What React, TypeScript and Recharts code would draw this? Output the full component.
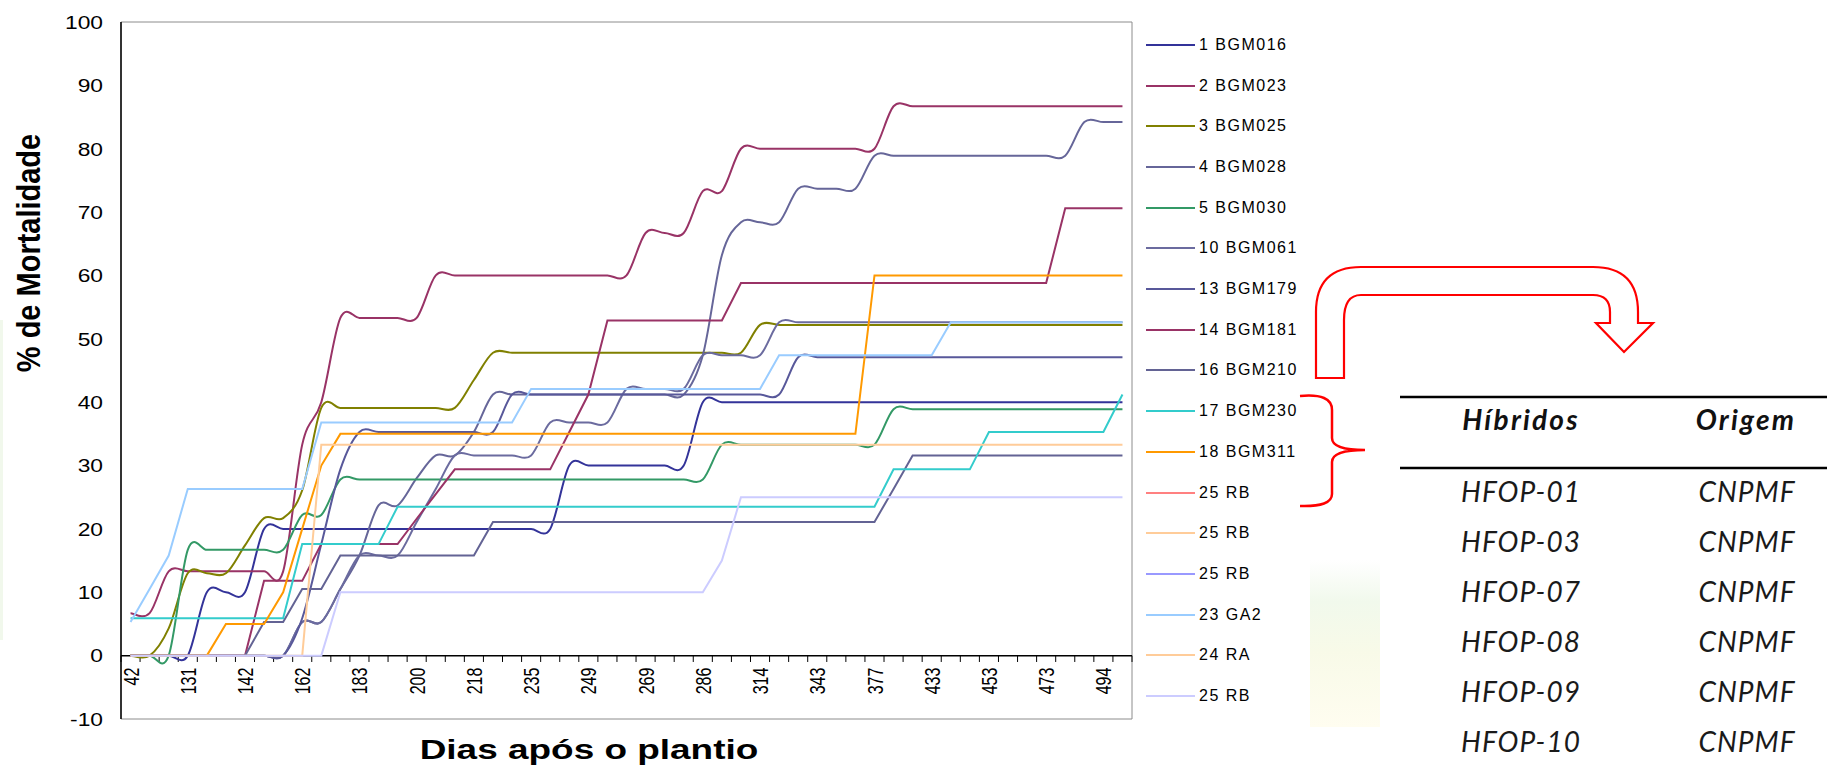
import React from "react";
import {
  Legend,
  Line,
  LineChart,
  ReferenceArea,
  ReferenceDot,
  ReferenceLine,
  XAxis,
  YAxis,
} from "recharts";

// Dias após o plantio: rótulo a cada três avaliações
const rotulosDias = [42, 131, 142, 162, 183, 200, 218, 235, 249, 269, 286, 314, 343, 377, 433, 453, 473, 494];
const nAvaliacoes = 53;

// % de mortalidade acumulada por acesso, uma posição por avaliação
const bgm016 = [
  0, 0, 0, 0, 10, 10, 10, 20, 20, 20,
  20, 20, 20, 20, 20, 20, 20, 20, 20, 20,
  20, 20, 20, 30, 30, 30, 30, 30, 30, 30,
  40, 40, 40, 40, 40, 40, 40, 40, 40, 40,
  40, 40, 40, 40, 40, 40, 40, 40, 40, 40,
  40, 40, 40,
];
const bgm023 = [
  6.7, 6.7, 13.3, 13.3, 13.3, 13.3, 13.3, 13.3, 13.3, 33.3,
  40, 53.3, 53.3, 53.3, 53.3, 53.3, 60, 60, 60, 60,
  60, 60, 60, 60, 60, 60, 60, 66.7, 66.7, 66.7,
  73.3, 73.3, 80, 80, 80, 80, 80, 80, 80, 80,
  86.7, 86.7, 86.7, 86.7, 86.7, 86.7, 86.7, 86.7, 86.7, 86.7,
  86.7, 86.7, 86.7,
];
const bgm025 = [
  0, 0, 4.3, 13, 13, 13, 17.4, 21.7, 21.7, 26.1,
  39.1, 39.1, 39.1, 39.1, 39.1, 39.1, 39.1, 39.1, 43.5, 47.8,
  47.8, 47.8, 47.8, 47.8, 47.8, 47.8, 47.8, 47.8, 47.8, 47.8,
  47.8, 47.8, 47.8, 52.2, 52.2, 52.2, 52.2, 52.2, 52.2, 52.2,
  52.2, 52.2, 52.2, 52.2, 52.2, 52.2, 52.2, 52.2, 52.2, 52.2,
  52.2, 52.2, 52.2,
];
const bgm028 = [
  0, 0, 0, 0, 0, 0, 0, 0, 0, 5.3,
  5.3, 10.5, 15.8, 23.7, 23.7, 28, 31.6, 31.6, 35.3, 41.2,
  41.2, 41.2, 41.2, 41.2, 41.2, 41.2, 41.2, 41.2, 41.2, 41.2,
  47.4, 63.2, 68.4, 68.4, 68.4, 73.7, 73.7, 73.7, 73.7, 78.9,
  78.9, 78.9, 78.9, 78.9, 78.9, 78.9, 78.9, 78.9, 78.9, 78.9,
  84.2, 84.2, 84.2,
];
const bgm030 = [
  0, 0, 0, 16.7, 16.7, 16.7, 16.7, 16.7, 16.7, 22.2,
  22.2, 27.8, 27.8, 27.8, 27.8, 27.8, 27.8, 27.8, 27.8, 27.8,
  27.8, 27.8, 27.8, 27.8, 27.8, 27.8, 27.8, 27.8, 27.8, 27.8,
  27.8, 33.3, 33.3, 33.3, 33.3, 33.3, 33.3, 33.3, 33.3, 33.3,
  38.9, 38.9, 38.9, 38.9, 38.9, 38.9, 38.9, 38.9, 38.9, 38.9,
  38.9, 38.9, 38.9,
];
const bgm061 = [
  0, 0, 0, 0, 0, 0, 0, 0, 0, 5.3,
  5.3, 10.5, 15.8, 15.8, 15.8, 21.1, 26.3, 31.6, 31.6, 31.6,
  31.6, 31.6, 36.8, 36.8, 36.8, 36.8, 42.1, 42.1, 42.1, 42.1,
  47.4, 47.4, 47.4, 47.4, 52.6, 52.6, 52.6, 52.6, 52.6, 52.6,
  52.6, 52.6, 52.6, 52.6, 52.6, 52.6, 52.6, 52.6, 52.6, 52.6,
  52.6, 52.6, 52.6,
];
const bgm179 = [
  0, 0, 0, 0, 0, 0, 0, 0, 0, 5.9,
  17.6, 29.4, 35.3, 35.3, 35.3, 35.3, 35.3, 35.3, 35.3, 35.3,
  41.2, 41.2, 41.2, 41.2, 41.2, 41.2, 41.2, 41.2, 41.2, 41.2,
  41.2, 41.2, 41.2, 41.2, 41.2, 47.1, 47.1, 47.1, 47.1, 47.1,
  47.1, 47.1, 47.1, 47.1, 47.1, 47.1, 47.1, 47.1, 47.1, 47.1,
  47.1, 47.1, 47.1,
];
const bgm181 = [
  0, 0, 0, 0, 0, 0, 0, 11.8, 11.8, 11.8,
  17.6, 17.6, 17.6, 17.6, 17.6, 21.6, 25.5, 29.4, 29.4, 29.4,
  29.4, 29.4, 29.4, 35.3, 41.2, 52.9, 52.9, 52.9, 52.9, 52.9,
  52.9, 52.9, 58.8, 58.8, 58.8, 58.8, 58.8, 58.8, 58.8, 58.8,
  58.8, 58.8, 58.8, 58.8, 58.8, 58.8, 58.8, 58.8, 58.8, 70.6,
  70.6, 70.6, 70.6,
];
const bgm210 = [
  0, 0, 0, 0, 0, 0, 0, 5.3, 5.3, 10.5,
  10.5, 15.8, 15.8, 15.8, 15.8, 15.8, 15.8, 15.8, 15.8, 21.1,
  21.1, 21.1, 21.1, 21.1, 21.1, 21.1, 21.1, 21.1, 21.1, 21.1,
  21.1, 21.1, 21.1, 21.1, 21.1, 21.1, 21.1, 21.1, 21.1, 21.1,
  26.3, 31.6, 31.6, 31.6, 31.6, 31.6, 31.6, 31.6, 31.6, 31.6,
  31.6, 31.6, 31.6,
];
const bgm230 = [
  5.9, 5.9, 5.9, 5.9, 5.9, 5.9, 5.9, 5.9, 5.9, 17.6,
  17.6, 17.6, 17.6, 17.6, 23.5, 23.5, 23.5, 23.5, 23.5, 23.5,
  23.5, 23.5, 23.5, 23.5, 23.5, 23.5, 23.5, 23.5, 23.5, 23.5,
  23.5, 23.5, 23.5, 23.5, 23.5, 23.5, 23.5, 23.5, 23.5, 23.5,
  29.4, 29.4, 29.4, 29.4, 29.4, 35.3, 35.3, 35.3, 35.3, 35.3,
  35.3, 35.3, 41.2,
];
const bgm311 = [
  0, 0, 0, 0, 0, 5, 5, 5, 10, 20,
  30, 35, 35, 35, 35, 35, 35, 35, 35, 35,
  35, 35, 35, 35, 35, 35, 35, 35, 35, 35,
  35, 35, 35, 35, 35, 35, 35, 35, 35, 60,
  60, 60, 60, 60, 60, 60, 60, 60, 60, 60,
  60, 60, 60,
];
const ga2 = [
  5.3, 10.5, 15.8, 26.3, 26.3, 26.3, 26.3, 26.3, 26.3, 26.3,
  36.8, 36.8, 36.8, 36.8, 36.8, 36.8, 36.8, 36.8, 36.8, 36.8,
  36.8, 42.1, 42.1, 42.1, 42.1, 42.1, 42.1, 42.1, 42.1, 42.1,
  42.1, 42.1, 42.1, 42.1, 47.4, 47.4, 47.4, 47.4, 47.4, 47.4,
  47.4, 47.4, 47.4, 52.6, 52.6, 52.6, 52.6, 52.6, 52.6, 52.6,
  52.6, 52.6, 52.6,
];
const ra = [
  0, 0, 0, 0, 0, 0, 0, 0, 0, 0,
  33.3, 33.3, 33.3, 33.3, 33.3, 33.3, 33.3, 33.3, 33.3, 33.3,
  33.3, 33.3, 33.3, 33.3, 33.3, 33.3, 33.3, 33.3, 33.3, 33.3,
  33.3, 33.3, 33.3, 33.3, 33.3, 33.3, 33.3, 33.3, 33.3, 33.3,
  33.3, 33.3, 33.3, 33.3, 33.3, 33.3, 33.3, 33.3, 33.3, 33.3,
  33.3, 33.3, 33.3,
];
const rb = [
  0, 0, 0, 0, 0, 0, 0, 0, 0, 0,
  0, 10, 10, 10, 10, 10, 10, 10, 10, 10,
  10, 10, 10, 10, 10, 10, 10, 10, 10, 10,
  10, 15, 25, 25, 25, 25, 25, 25, 25, 25,
  25, 25, 25, 25, 25, 25, 25, 25, 25, 25,
  25, 25, 25,
];
// séries sem leitura (aparecem só na legenda)
const semDados: number[] = [];

const series = [
  { key: "s1", nome: "1 BGM016", cor: "#333399", valores: bgm016, suave: true },
  { key: "s2", nome: "2 BGM023", cor: "#993366", valores: bgm023, suave: true },
  { key: "s3", nome: "3 BGM025", cor: "#808000", valores: bgm025, suave: true },
  { key: "s4", nome: "4 BGM028", cor: "#666699", valores: bgm028, suave: true },
  { key: "s5", nome: "5 BGM030", cor: "#339966", valores: bgm030, suave: true },
  { key: "s10", nome: "10 BGM061", cor: "#6B6B9F", valores: bgm061, suave: true },
  { key: "s13", nome: "13 BGM179", cor: "#58589A", valores: bgm179, suave: true },
  { key: "s14", nome: "14 BGM181", cor: "#993366", valores: bgm181, suave: false },
  { key: "s16", nome: "16 BGM210", cor: "#636394", valores: bgm210, suave: false },
  { key: "s17", nome: "17 BGM230", cor: "#33CCCC", valores: bgm230, suave: false },
  { key: "s18", nome: "18 BGM311", cor: "#FF9900", valores: bgm311, suave: false },
  { key: "s25a", nome: "25 RB", cor: "#FF8080", valores: semDados, suave: false },
  { key: "s25b", nome: "25 RB", cor: "#FFCC99", valores: semDados, suave: false },
  { key: "s25c", nome: "25 RB", cor: "#9999FF", valores: semDados, suave: false },
  { key: "s23", nome: "23 GA2", cor: "#99CCFF", valores: ga2, suave: false },
  { key: "s24", nome: "24 RA", cor: "#FFCC99", valores: ra, suave: false },
  { key: "s25", nome: "25 RB", cor: "#CCCCFF", valores: rb, suave: false },
];

const dados = Array.from({ length: nAvaliacoes }, (_, i) => {
  const row: Record<string, number> = { i };
  series.forEach((s) => {
    if (s.valores[i] !== undefined) row[s.key] = s.valores[i];
  });
  return row;
});

const limites = Array.from({ length: nAvaliacoes + 1 }, (_, k) => k - 0.5);
const ticksY = [-10, 0, 10, 20, 30, 40, 50, 60, 70, 80, 90, 100];

const hibridos = ["HFOP-01", "HFOP-03", "HFOP-07", "HFOP-08", "HFOP-09", "HFOP-10"];
const origens = ["CNPMF", "CNPMF", "CNPMF", "CNPMF", "CNPMF", "CNPMF"];

const FONTE = "'Liberation Sans', Arial, sans-serif";
const FONTE_TABELA = "Lato, 'Open Sans', sans-serif";

// suavização tipo Catmull-Rom (como a "linha suavizada" da planilha)
function curvaSuave(context: any) {
  let pts: number[][] = [];
  return {
    areaStart() {},
    areaEnd() {},
    lineStart() {
      pts = [];
    },
    point(x: number, y: number) {
      pts.push([+x, +y]);
    },
    lineEnd() {
      if (!pts.length) return;
      context.moveTo(pts[0][0], pts[0][1]);
      for (let k = 0; k < pts.length - 1; k++) {
        const p0 = pts[k - 1] ?? pts[k];
        const p1 = pts[k];
        const p2 = pts[k + 1];
        const p3 = pts[k + 2] ?? p2;
        context.bezierCurveTo(
          p1[0] + (p2[0] - p0[0]) / 6,
          p1[1] + (p2[1] - p0[1]) / 6,
          p2[0] - (p3[0] - p1[0]) / 6,
          p2[1] - (p3[1] - p1[1]) / 6,
          p2[0],
          p2[1]
        );
      }
    },
  };
}

const RotuloY = ({ x, y, payload }: any) => (
  <text
    transform={`translate(${x},${y}) scale(1.2,1)`}
    textAnchor="end"
    dominantBaseline="central"
    fontFamily={FONTE}
    fontSize={19}
    fill="#000"
  >
    {payload.value}
  </text>
);

const RotuloDia = (props: any) => {
  const { viewBox, texto } = props;
  if (!viewBox) return null;
  const x = viewBox.x + (viewBox.width || 0) / 2;
  const y = viewBox.y + (viewBox.height || 0) / 2;
  return (
    <text
      transform={`translate(${x},${y + 12}) scale(1.4,1) rotate(-90)`}
      textAnchor="end"
      dominantBaseline="central"
      fontFamily={FONTE}
      fontSize={16}
      fill="#000"
    >
      {texto}
    </text>
  );
};

const Legenda = (props: any) => {
  const payload = props.payload || [];
  const itens = series
    .map((s) => payload.find((p: any) => p.dataKey === s.key))
    .filter(Boolean);
  return (
    <div>
      {itens.map((p: any, k: number) => (
        <div key={k} style={{ height: 40.7, display: "flex", alignItems: "center" }}>
          <svg width={53} height={4} style={{ display: "block" }}>
            <line x1={0} y1={2} x2={49} y2={2} stroke={p.color} strokeWidth={2} />
          </svg>
          <span style={{ fontFamily: FONTE, fontSize: 16, letterSpacing: 1.5, color: "#000", lineHeight: "16px" }}>
            {p.value}
          </span>
        </div>
      ))}
    </div>
  );
};

export default function App() {
  return (
    <div
      style={{
        position: "absolute",
        left: 0,
        top: 0,
        width: 1827,
        height: 766,
        background: "#fff",
        fontFamily: FONTE,
        overflow: "hidden",
      }}
    >
      <LineChart
        width={1827}
        height={766}
        data={dados}
        margin={{ top: 22, right: 695, bottom: 47, left: 61 }}
      >
        <XAxis dataKey="i" type="number" domain={[-0.5, 52.5]} allowDataOverflow hide />
        <YAxis
          type="number"
          domain={[-10, 100]}
          ticks={ticksY}
          width={60}
          tickLine={false}
          tickSize={0}
          tickMargin={18}
          axisLine={{ stroke: "#000", strokeWidth: 1.5 }}
          tick={<RotuloY />}
          interval={0}
        />
        <ReferenceArea
          x1={-0.5}
          x2={52.5}
          y1={-10}
          y2={100}
          fill="none"
          fillOpacity={0}
          stroke="#8c8c8c"
          strokeWidth={1}
          ifOverflow="visible"
        />
        <ReferenceLine y={0} stroke="#000" strokeWidth={1.5} />
        {limites.map((b) => (
          <ReferenceLine
            key={`t${b}`}
            segment={[
              { x: b, y: 0 },
              { x: b, y: -1 },
            ]}
            stroke="#000"
            strokeWidth={1}
            ifOverflow="visible"
          />
        ))}
        {rotulosDias.map((d, k) => (
          <ReferenceDot
            key={`d${d}`}
            x={k * 3}
            y={0}
            r={0}
            fill="none"
            stroke="none"
            ifOverflow="visible"
            label={<RotuloDia texto={String(d)} />}
          />
        ))}
        {series.map((s) => (
          <Line
            key={s.key}
            dataKey={s.key}
            name={s.nome}
            type={s.suave ? (curvaSuave as any) : "linear"}
            stroke={s.cor}
            strokeWidth={2}
            dot={false}
            activeDot={false}
            isAnimationActive={false}
          />
        ))}
        <Legend
          layout="vertical"
          align="center"
          verticalAlign="middle"
          content={<Legenda />}
          wrapperStyle={{ left: 1146, top: 24.6, width: 260, height: 700 }}
        />
      </LineChart>

      <svg
        width={1827}
        height={766}
        style={{ position: "absolute", left: 0, top: 0, pointerEvents: "none" }}
      >
        <defs>
          <linearGradient id="marca" x1="0" y1="0" x2="0" y2="1">
            <stop offset="0" stopColor="#ffffff" />
            <stop offset="0.25" stopColor="#f1f9ec" />
            <stop offset="0.55" stopColor="#f8fae8" />
            <stop offset="1" stopColor="#fffdf0" />
          </linearGradient>
        </defs>
        <rect x={0} y={320} width={3} height={320} fill="#f1f8ec" />
        <rect x={1310} y={560} width={70} height={167} fill="url(#marca)" />

        <text
          transform="translate(40,253) scale(1.12,1) rotate(-90)"
          textAnchor="middle"
          fontFamily={FONTE}
          fontWeight="bold"
          fontSize={29}
          fill="#000"
        >
          % de Mortalidade
        </text>
        <text
          transform="translate(589,759) scale(1.32,1)"
          textAnchor="middle"
          fontFamily={FONTE}
          fontWeight="bold"
          fontSize={28}
          fill="#000"
        >
          Dias após o plantio
        </text>

        {/* chave e seta de destaque */}
        <path
          d="M1300 396 Q1332 393 1332 410 L1332 438 Q1332 450 1365 450 Q1332 450 1332 462 L1332 494 Q1332 507 1300 506"
          fill="none"
          stroke="#ff0000"
          strokeWidth={2.5}
        />
        <path
          d="M1316 378 L1316 312 Q1316 267 1361 267 L1593 267 Q1638 267 1638 312 L1638 323 L1653 323 L1624 352 L1596 323 L1610 323 L1610 312 Q1610 295 1593 295 L1361 295 Q1344 295 1344 320 L1344 378 Z"
          fill="none"
          stroke="#ff0000"
          strokeWidth={2.2}
        />

        {/* tabela de híbridos */}
        <line x1={1400} y1={397} x2={1827} y2={397} stroke="#000" strokeWidth={2.5} />
        <line x1={1400} y1={468} x2={1827} y2={468} stroke="#000" strokeWidth={2.5} />
        <text x={1521} y={430} textAnchor="middle" fontFamily={FONTE_TABELA} fontStyle="italic" fontWeight="bold" fontSize={28} letterSpacing={2.2} fill="#111">
          Híbridos
        </text>
        <text x={1746} y={430} textAnchor="middle" fontFamily={FONTE_TABELA} fontStyle="italic" fontWeight="bold" fontSize={28} letterSpacing={2.2} fill="#111">
          Origem
        </text>
        {hibridos.map((h, k) => (
          <g key={h}>
            <text x={1521} y={502 + k * 50} textAnchor="middle" fontFamily={FONTE_TABELA} fontStyle="italic" fontSize={28} letterSpacing={1} fill="#1a1a1a">
              {h}
            </text>
            <text x={1747} y={502 + k * 50} textAnchor="middle" fontFamily={FONTE_TABELA} fontStyle="italic" fontSize={28} letterSpacing={1} fill="#1a1a1a">
              {origens[k]}
            </text>
          </g>
        ))}
      </svg>
    </div>
  );
}
